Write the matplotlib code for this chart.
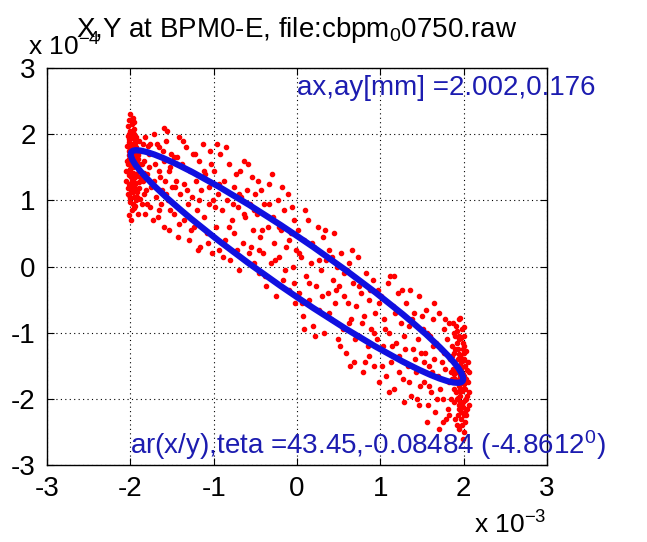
import numpy as np
import matplotlib
matplotlib.use('Agg')
import matplotlib.pyplot as plt
from matplotlib.patches import Ellipse

plt.rcParams['font.family'] = ['Liberation Sans', 'DejaVu Sans']
plt.rcParams['mathtext.fontset'] = 'custom'
plt.rcParams['mathtext.rm'] = 'Liberation Sans'
plt.rcParams['mathtext.it'] = 'Liberation Sans:italic'

# turn-by-turn positions, x in units of 1e-3 m, y in units of 1e-4 m
x_pts = [
    # left end cluster
    -2.02, -1.98, -2.00, -1.96, -2.03, -1.99, -1.95, -2.01, -1.97, -2.04, -1.93, -2.00, -1.98, -1.94,
    -2.02, -1.96, -1.91, -1.99, -2.03, -1.95, -1.92, -2.00, -1.97, -1.89, -2.02, -1.94, -1.98, -1.90,
    -2.01, -1.95, -1.99, -1.92, -2.03, -1.96, -1.88, -2.00, -1.94, -1.98, -1.91, -2.02, -1.97, -1.93,
    -1.86, -1.85, -1.87, -1.84, -2.05, -1.96, -1.90, -1.99, -1.94, -2.01, -1.97, -1.89, -1.83,
    # -1.85 .. -1.5
    -1.82, -1.80, -1.78, -1.76, -1.74, -1.72, -1.70, -1.69, -1.67, -1.65, -1.64, -1.62, -1.60, -1.59,
    -1.57, -1.55, -1.54, -1.52, -1.51, -1.50, -1.81, -1.77, -1.73, -1.68, -1.63, -1.58, -1.56, -1.53,
    -1.79, -1.66,
    # -1.5 .. -1.0
    -1.48, -1.47, -1.45, -1.43, -1.42, -1.40, -1.38, -1.36, -1.35, -1.33, -1.31, -1.30, -1.28, -1.26,
    -1.25, -1.23, -1.21, -1.20, -1.18, -1.16, -1.15, -1.13, -1.11, -1.10, -1.08, -1.06, -1.05, -1.03,
    -1.02, -1.01,
    # -1.0 .. -0.5
    -0.99, -0.97, -0.95, -0.93, -0.92, -0.90, -0.88, -0.86, -0.84, -0.82, -0.80, -0.78, -0.76, -0.75,
    -0.73, -0.71, -0.69, -0.67, -0.65, -0.63, -0.62, -0.60, -0.58, -0.56, -0.54, -0.53, -0.51, -0.50,
    # -0.5 .. 0
    -0.48, -0.46, -0.44, -0.43, -0.41, -0.39, -0.37, -0.35, -0.33, -0.31, -0.29, -0.27, -0.25, -0.23,
    -0.21, -0.19, -0.17, -0.15, -0.13, -0.11, -0.09, -0.07, -0.05, -0.04, -0.02, -0.01,
    # 0 .. 0.5
    0.01, 0.03, 0.05, 0.07, 0.09, 0.11, 0.13, 0.15, 0.17, 0.19, 0.21, 0.23, 0.25, 0.27,
    0.29, 0.31, 0.33, 0.35, 0.37, 0.39, 0.41, 0.43, 0.45, 0.46, 0.48, 0.49,
    # 0.5 .. 1.0
    0.51, 0.53, 0.55, 0.57, 0.59, 0.61, 0.63, 0.65, 0.67, 0.69, 0.71, 0.73, 0.75, 0.77,
    0.79, 0.81, 0.83, 0.85, 0.87, 0.89, 0.91, 0.92, 0.94, 0.96, 0.97, 0.99, 0.60, 0.86,
    # 1.0 .. 1.5
    1.01, 1.03, 1.05, 1.07, 1.09, 1.11, 1.13, 1.15, 1.17, 1.19, 1.21, 1.23, 1.25, 1.27,
    1.29, 1.31, 1.33, 1.35, 1.37, 1.39, 1.41, 1.43, 1.45, 1.47, 1.48, 1.49, 1.12, 1.28,
    1.36, 1.44,
    # 1.5 .. 1.85
    1.51, 1.52, 1.54, 1.55, 1.57, 1.58, 1.60, 1.61, 1.63, 1.64, 1.66, 1.67, 1.69, 1.70,
    1.72, 1.73, 1.75, 1.76, 1.78, 1.79, 1.80, 1.82, 1.83, 1.84, 1.56, 1.65, 1.71, 1.77,
    1.81, 1.62,
    # right end cluster
    1.86, 1.88, 1.90, 1.92, 1.94, 1.96, 1.98, 2.00, 2.02, 2.04, 1.87, 1.89, 1.91, 1.93,
    1.95, 1.97, 1.99, 2.01, 2.03, 2.05, 1.86, 1.88, 1.90, 1.92, 1.94, 1.96, 1.98, 2.00,
    2.02, 2.04, 1.87, 1.89, 1.91, 1.93, 1.95, 1.97, 1.99, 2.01, 2.03, 2.06, 1.85, 1.90,
    1.94, 1.98, 2.00, 2.02, 1.96, 1.92, 2.07, 1.88, 1.99, 1.95, 2.01, 1.93, 1.97,
]
y_pts = [
    2.21, 2.15, 2.05, 2.08, 1.98, 1.95, 1.92, 1.88, 1.85, 1.82, 1.80, 1.78, 1.72, 1.70,
    1.68, 1.64, 1.62, 1.60, 1.55, 1.52, 1.50, 1.47, 1.42, 1.45, 1.38, 1.35, 1.30, 1.28,
    1.25, 1.20, 1.15, 1.12, 1.10, 1.05, 1.02, 0.98, 0.92, 0.85, 0.80, 1.62, 1.58, 1.40,
    1.55, 1.30, 1.75, 1.10, 1.45, 2.00, 1.90, 1.35, 1.25, 1.08, 0.95, 1.18, 1.42,
    1.95, 1.40, 1.70, 0.90, 1.25, 2.00, 1.55, 1.05, 0.75, 1.80, 1.35, 1.15, 1.60, 0.60,
    1.90, 1.00, 1.45, 0.85, 1.70, 1.20, 1.15, 1.50, 0.70, 1.85, 0.95, 1.30, 2.05, 0.55,
    1.82, 1.45,
    1.65, 0.80, 1.30, 0.45, 1.95, 1.10, 1.55, 0.70, 1.25, 1.80, 0.95, 0.40, 1.45, 1.05,
    1.70, 0.60, 1.30, 0.85, 1.60, 0.30, 1.15, 1.85, 0.75, 1.40, 0.50, 1.20, 0.95, 1.55,
    0.20, 1.00,
    1.45, 0.60, 1.10, 0.25, 1.70, 0.85, 1.30, 0.40, 1.00, 1.55, 0.10, 0.70, 1.20, 0.50,
    1.40, 0.90, -0.05, 1.05, 0.35, 1.60, 0.75, 1.15, 0.20, 0.95, 1.35, 0.55, 0.05, 1.10,
    0.80, -0.10, 0.45, 1.15, 0.20, 0.95, -0.30, 0.60, 1.25, 0.05, 0.75, 0.35, -0.45, 1.00,
    0.15, 0.55, -0.20, 0.85, 0.30, 1.10, -0.35, 0.50, 0.00, 0.70, -0.55, 0.25,
    0.55, -0.40, 0.15, -0.75, 0.40, -0.15, 0.70, -0.50, 0.05, -0.90, 0.30, -0.30, 0.60, -0.65,
    -0.05, 0.45, -1.00, 0.10, -0.40, 0.25, -0.80, -0.20, 0.50, -0.55, 0.00, -1.10,
    -0.30, 0.20, -0.95, -0.10, -1.30, -0.55, 0.05, -0.80, -0.25, -1.45, -0.60, 0.15, -1.05, -0.40,
    -1.60, -0.75, -0.10, -1.20, -0.50, -0.95, -0.20, -1.50, -0.70, -1.10, -0.35, -1.75, -0.05, -1.35,
    -0.45, -1.20, -0.80, -1.65, -0.25, -1.00, -1.45, -0.60, -1.85, -1.15, -0.40, -1.35, -0.85, -1.70,
    -1.05, -0.55, -1.50, -0.90, -1.95, -1.25, -0.70, -1.60, -1.10, -0.45, -1.80, -1.30, -0.15, -2.05,
    -0.35, -2.00,
    -0.95, -1.75, -1.30, -0.65, -2.10, -1.50, -1.05, -1.90, -0.80, -1.40, -2.20, -1.15, -1.65, -0.70,
    -1.85, -1.25, -2.00, -0.95, -1.55, -2.30, -1.10, -1.75, -0.85, -1.40, -2.35, -0.55, -2.45, -1.30,
    -2.15, -1.60,
    -1.20, -1.85, -1.05, -1.60, -2.10, -1.35, -1.75, -2.25, -1.50, -1.95, -1.55, -2.05, -0.90, -1.40,
    -1.80, -2.20, -1.25, -1.65, -2.00, -1.45, -1.70, -1.30, -2.30, -1.15, -1.50, -1.95, -0.95, -1.40,
    -1.85, -2.15, -0.85, -1.45, -1.90, -2.25, -1.10, -1.55, -2.05, -1.20, -1.70, -1.90, -2.00, -1.70,
    -0.80, -2.40, -1.05, -2.35, -1.65, -2.00, -1.60, -1.00, -1.85, -2.45, -1.30, -1.25, -1.45,
]

# more points, same units, as (x, y) pairs
extra_pts = [
    (-2.00, 2.30), (-1.97, 2.25), (-2.03, 2.12), (-1.95, 2.18), (-1.99, 2.02), (-2.02, 1.92),
    (-1.93, 1.96), (-1.98, 1.83), (-2.01, 1.75), (-1.95, 1.74), (-1.99, 1.66), (-2.04, 1.60),
    (-1.93, 1.58), (-1.97, 1.50), (-2.01, 1.42), (-1.95, 1.38), (-1.99, 1.22), (-2.03, 1.18),
    (-1.94, 1.15), (-1.97, 1.12), (-2.00, 1.03), (-1.93, 1.00), (-1.96, 0.88), (-2.01, 0.78),
    (-1.99, 0.70), (-1.91, 1.68), (-1.88, 1.35), (-1.92, 1.05), (-1.86, 0.95), (-1.98, 1.52),
    (-2.05, 1.30), (-1.96, 1.28), (-1.90, 1.55), (-1.94, 1.86), (-2.02, 2.00),
    (2.00, -2.50), (1.97, -2.30), (2.03, -2.25), (1.95, -2.15), (1.99, -2.12), (2.02, -2.02),
    (1.93, -1.98), (1.98, -1.88), (2.01, -1.78), (1.95, -1.72), (1.99, -1.62), (2.04, -1.56),
    (1.93, -1.55), (1.97, -1.38), (2.01, -1.42), (1.95, -1.32), (1.99, -1.15), (2.03, -1.28),
    (1.94, -1.05), (1.97, -1.08), (2.00, -0.92), (1.92, -0.98), (1.96, -0.78), (2.05, -1.75),
    (1.99, -2.60), (1.91, -1.75), (1.88, -1.62), (1.92, -2.40), (1.86, -1.35), (1.98, -1.52),
    (2.06, -2.10), (1.96, -2.05), (1.90, -1.25), (1.94, -1.88), (2.02, -2.20),
    (-1.84, 1.60), (-1.80, 0.95), (-1.76, 1.85), (-1.71, 1.30), (-1.66, 0.85), (-1.61, 1.75),
    (-1.57, 1.10), (-1.52, 1.50), (-1.46, 1.20), (-1.41, 0.65), (-1.37, 1.90), (-1.32, 1.15),
    (-1.27, 0.55), (-1.22, 1.70), (-1.17, 1.00), (-1.12, 1.45), (-1.07, 0.35), (-1.04, 1.75),
    (-0.98, 0.90), (-0.94, 1.25), (-0.89, 0.15), (-0.85, 1.80), (-0.81, 0.60), (-0.77, 0.95),
    (-0.72, 0.25), (-0.68, 1.45), (-0.64, 0.80), (-0.59, 1.55), (-0.55, 0.30), (-0.52, 0.85),
    (-0.47, 1.30), (-0.42, 0.55), (-0.38, -0.15), (-0.34, 0.95), (-0.30, 1.40), (-0.26, 0.10),
    (-0.22, 0.60), (-0.18, 1.20), (-0.14, -0.05), (-0.10, 0.40), (-0.06, 0.90), (-0.03, -0.25),
    (0.02, 0.20), (0.06, -0.55), (0.10, 0.85), (0.14, -0.25), (0.18, 0.35), (0.22, -1.05),
    (0.26, 0.10), (0.30, -0.45), (0.34, 0.55), (0.38, -0.70), (0.42, 0.15), (0.47, -0.35),
    (0.52, -1.20), (0.56, -0.45), (0.62, -0.85), (0.66, 0.25), (0.70, -1.10), (0.74, -0.30),
    (0.78, -0.85), (0.82, -1.45), (0.88, -0.35), (0.93, -1.00), (0.98, -0.55), (1.02, -1.50),
    (1.06, -0.95), (1.10, -1.90), (1.14, -1.20), (1.18, -0.70), (1.22, -1.60), (1.26, -0.35),
    (1.30, -1.25), (1.34, -1.75), (1.38, -0.80), (1.42, -1.40), (1.46, -2.10), (1.50, -0.75),
    (1.53, -1.45), (1.59, -1.80), (1.63, -1.20), (1.68, -2.00), (1.74, -1.45), (1.78, -0.80),
    (1.83, -2.25), (1.85, -1.60), (-1.85, 1.85), (-1.82, 0.80), (-1.75, 1.20), (-1.60, 2.10),
    (-1.44, 1.65), (-1.19, 0.25), (-0.96, 1.85), (-0.70, 1.10), (-0.45, 0.25), (0.08, -0.95),
    (0.64, -1.50), (1.16, -0.15), (1.56, -1.00), (1.75, -2.35),
]

# fitted ellipse parameters (from the annotations)
ax_mm = 2.002
ay_mm = 0.176
ratio = 43.45
teta = -0.08484
teta_deg = -4.8612

xs = np.array(x_pts + [p[0] for p in extra_pts]) * 1e-3
ys = np.array(y_pts + [p[1] for p in extra_pts]) * 1e-4

fig = plt.figure(figsize=(6.47, 5.42), dpi=100)
ax = fig.add_axes([0.0726, 0.142, 0.7728, 0.7325])

ax.plot(xs, ys, '.', color='red', markersize=6)

semi_a = ax_mm * 1e-3
semi_b = semi_a / ratio
ell = Ellipse((0, 0), width=2 * semi_a, height=2 * semi_b, angle=teta_deg,
              fill=False, edgecolor='#1010e0', linewidth=4.5, zorder=3)
ax.add_patch(ell)

ax.set_xlim(-3e-3, 3e-3)
ax.set_ylim(-3e-4, 3e-4)
ticks = [-3, -2, -1, 0, 1, 2, 3]
ax.set_xticks([t * 1e-3 for t in ticks])
ax.set_xticklabels([str(t) for t in ticks])
ax.set_yticks([t * 1e-4 for t in ticks])
ax.set_yticklabels([str(t) for t in ticks])
ax.tick_params(direction='in', length=5, labelsize=20, top=True, right=True, pad=8)
ax.grid(True, linestyle=(0, (1, 3)), color='black', linewidth=0.8)
for s in ax.spines.values():
    s.set_linewidth(1.0)

ax.set_title(r'X,Y at BPM0-E, file:cbpm$_{\mathrm{0}}$0750.raw', fontsize=20, pad=22)

txt_col = '#1c1cb0'
ax.text(0, 2.7e-4, 'ax,ay[mm] =%.3f,%.3f' % (ax_mm, ay_mm), color=txt_col,
        fontsize=20, va='center', ha='left', clip_on=False)
ax.text(-2e-3, -2.7e-4, r'ar(x/y),teta =%.2f,%.5f (%.4f$^{\mathrm{0}}$)' % (ratio, teta, teta_deg),
        color=txt_col, fontsize=20, va='center', ha='left', clip_on=False)

fig.text(0.043, 0.898, r'x 10$^{\mathrm{-4}}$', fontsize=19, ha='left', va='baseline')
fig.text(0.845, 0.015, r'x 10$^{\mathrm{-3}}$', fontsize=19, ha='right', va='baseline')

fig.savefig('out.png', dpi=100)
